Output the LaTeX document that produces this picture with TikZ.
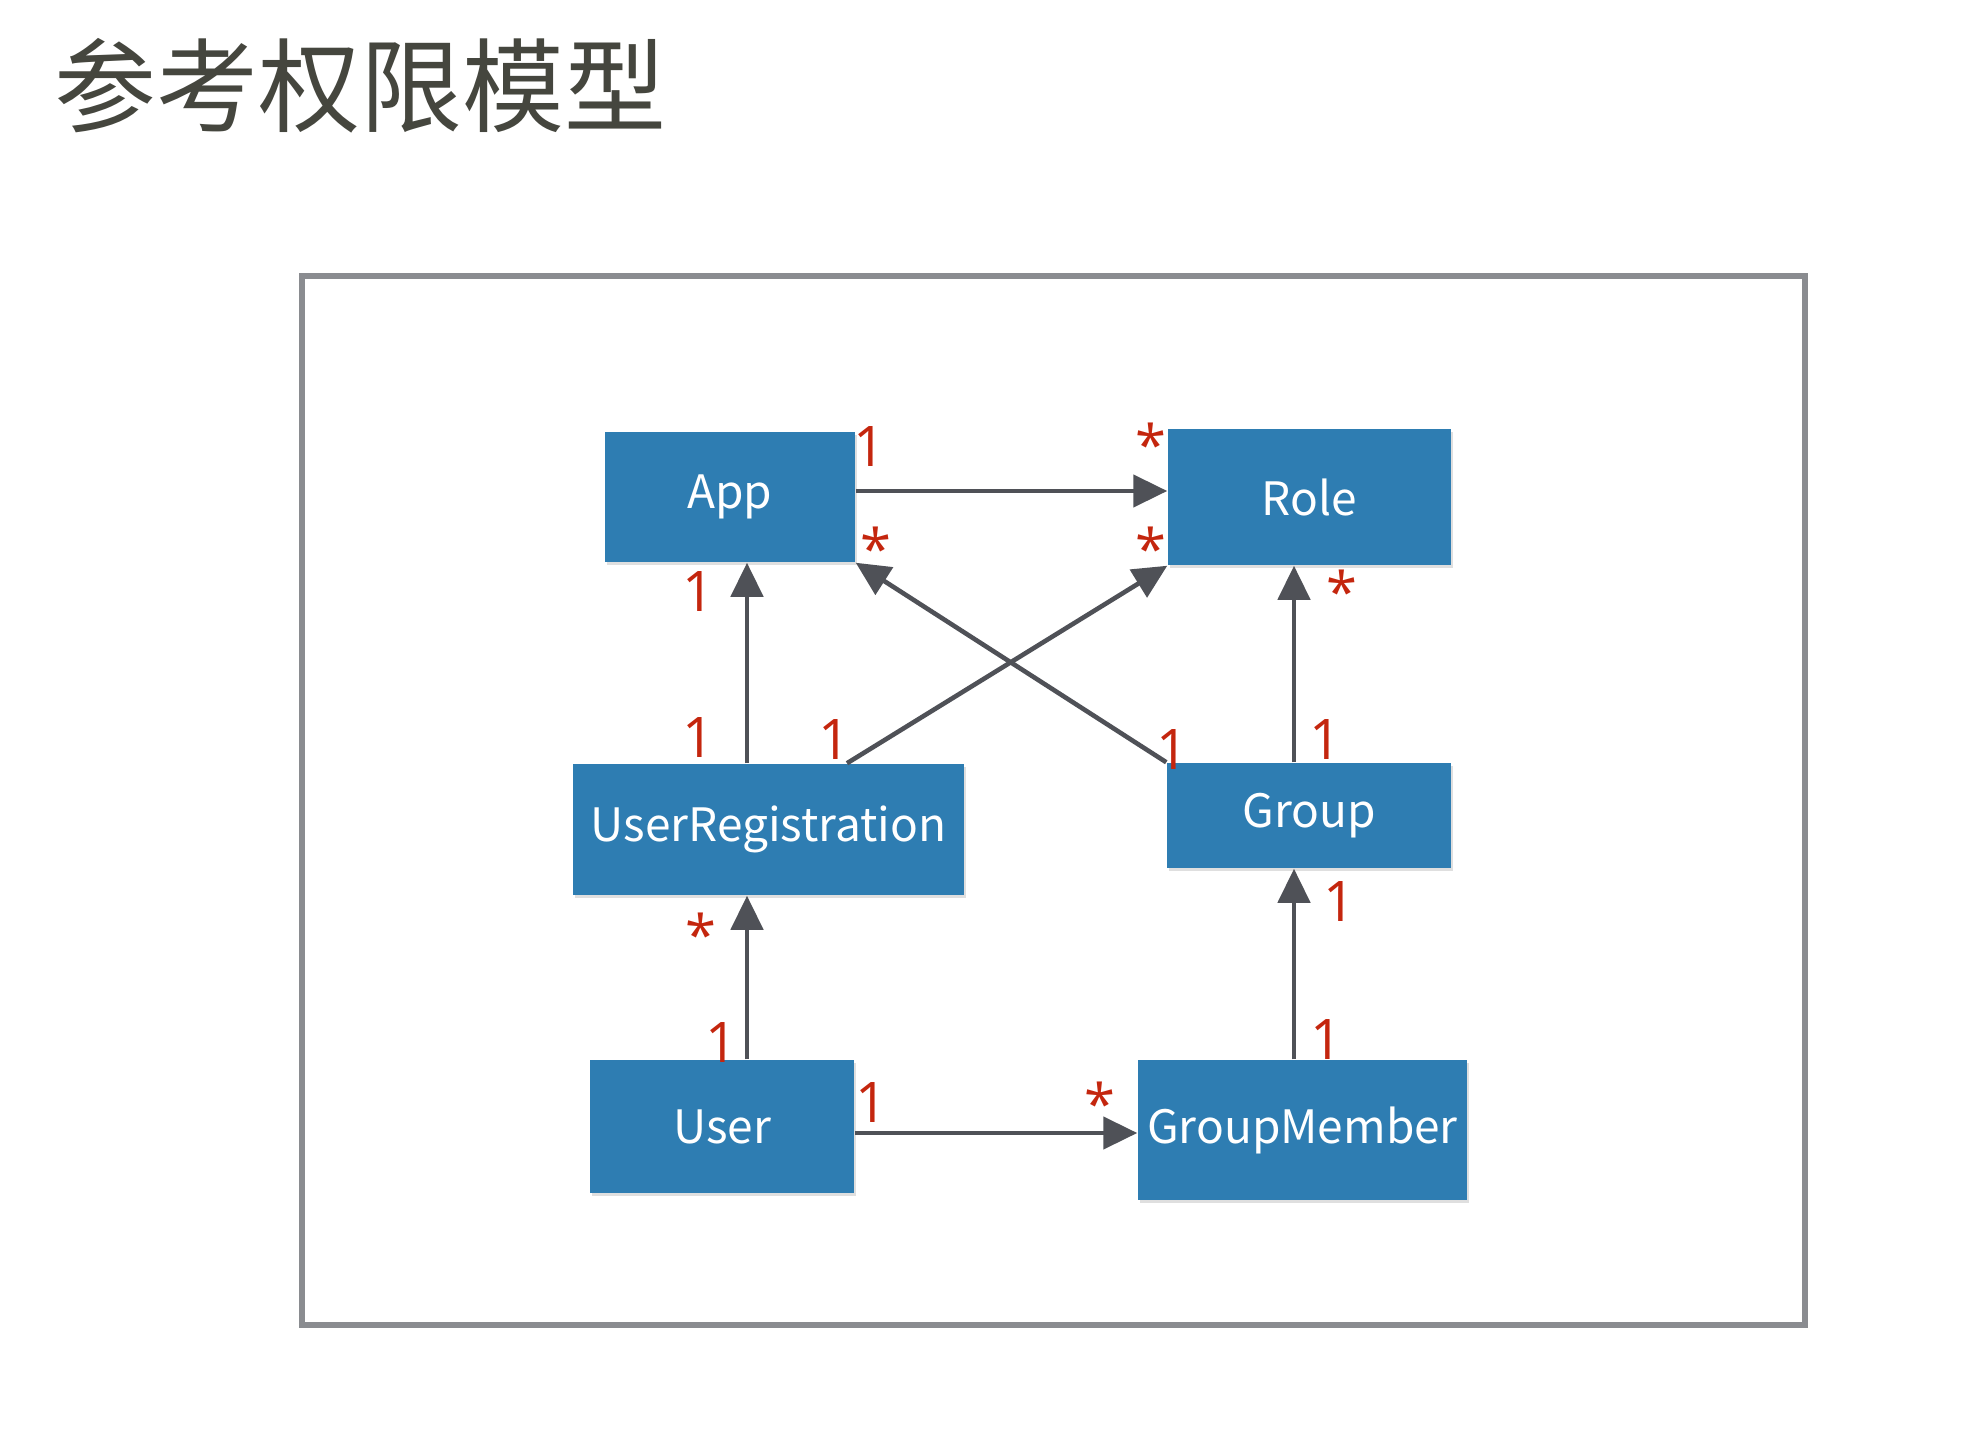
\documentclass[tikz,border=0pt]{standalone}
\usepackage{fontspec}
\setmainfont{Noto Sans CJK SC}
\newfontfamily\multfont{Open Sans}
\usetikzlibrary{arrows.meta,shadows}

\definecolor{boxblue}{RGB}{46,125,178}
\definecolor{linkgray}{RGB}{79,81,87}
\definecolor{multred}{RGB}{196,38,14}
\definecolor{framegray}{RGB}{138,140,144}
\definecolor{titlegray}{RGB}{69,70,62}

\tikzset{every picture/.style={line width=0.75pt}}
\tikzset{
  entity/.style={fill=boxblue, text=white, inner sep=0pt,
    font=\fontsize{23}{28}\selectfont,
    drop shadow={shadow xshift=1pt, shadow yshift=-1.5pt, opacity=0.25}},
  link/.style={draw=linkgray, line width=2.3pt, -{Triangle[length=17pt,width=16pt]}},
  mult/.style={text=multred, inner sep=0pt, font=\multfont\fontsize{28}{30}\selectfont},
  star/.style={mult, yshift=-5.5pt},
}

\begin{document}
\begin{tikzpicture}[x=0.5pt,y=0.5pt,yscale=-1,xscale=1]
\useasboundingbox (0,0) rectangle (1964,1438);

% Text Node
\node [anchor=west, inner sep=0pt, text=titlegray, font=\fontsize{51}{60}\selectfont] (title) at (54,86) {参考权限模型};

%Shape: Rectangle
\draw [draw=framegray, line width=3pt] (302,276) rectangle (1805,1325);

%Shape: Rectangle
\node [entity, minimum width=125pt, minimum height=65pt] (app) at (730,497) {App};
\node [entity, minimum width=141.5pt, minimum height=68pt] (role) at (1309.5,497) {Role};
\node [entity, minimum width=195.5pt, minimum height=65.5pt] (ureg) at (768.5,829.5) {UserRegistration};
\node [entity, minimum width=142pt, minimum height=52.5pt] (group) at (1309,815.5) {Group};
\node [entity, minimum width=132pt, minimum height=66.5pt] (user) at (722,1126.5) {User};
\node [entity, minimum width=164.5pt, minimum height=70pt] (gmember) at (1302.5,1130) {GroupMember};

% line positions
\coordinate (xleft) at (747,0);
\coordinate (xright) at (1294,0);
\coordinate (ytop) at (0,491);
\coordinate (ybottom) at (0,1133);
\coordinate (urtop) at (847,0);

%Straight Lines
\draw [link] (app.east |- ytop) -- (role.west |- ytop);
\draw [link] (ureg.north -| xleft) -- (app.south -| xleft);
\draw [link] (ureg.north -| urtop) -- (role.south west);
\draw [link] (group.north west) -- (app.south east);
\draw [link] (group.north -| xright) -- (role.south -| xright);
\draw [link] (user.north -| xleft) -- (ureg.south -| xleft);
\draw [link] (gmember.north -| xright) -- (group.south -| xright);
\draw [link] (user.east |- ybottom) -- (gmember.west |- ybottom);

% Text Node
\node [mult] (m1) at (869,447) {1};
\node [star] (m2) at (1151,433) {*};
\node [star] (m3) at (876,537) {*};
\node [star] (m4) at (1151,537) {*};
\node [mult] (m5) at (698,592) {1};
\node [star] (m6) at (1342,580) {*};
\node [mult] (m7) at (698,738) {1};
\node [mult] (m8) at (834,740) {1};
\node [mult] (m9) at (1172,750) {1};
\node [mult] (m10) at (1325,740) {1};
\node [star] (m11) at (701,923) {*};
\node [mult] (m12) at (1339,902) {1};
\node [mult] (m13) at (721,1043) {1};
\node [mult] (m14) at (1326,1040) {1};
\node [mult] (m15) at (871,1103) {1};
\node [star] (m16) at (1100,1092) {*};

\end{tikzpicture}
\end{document}
